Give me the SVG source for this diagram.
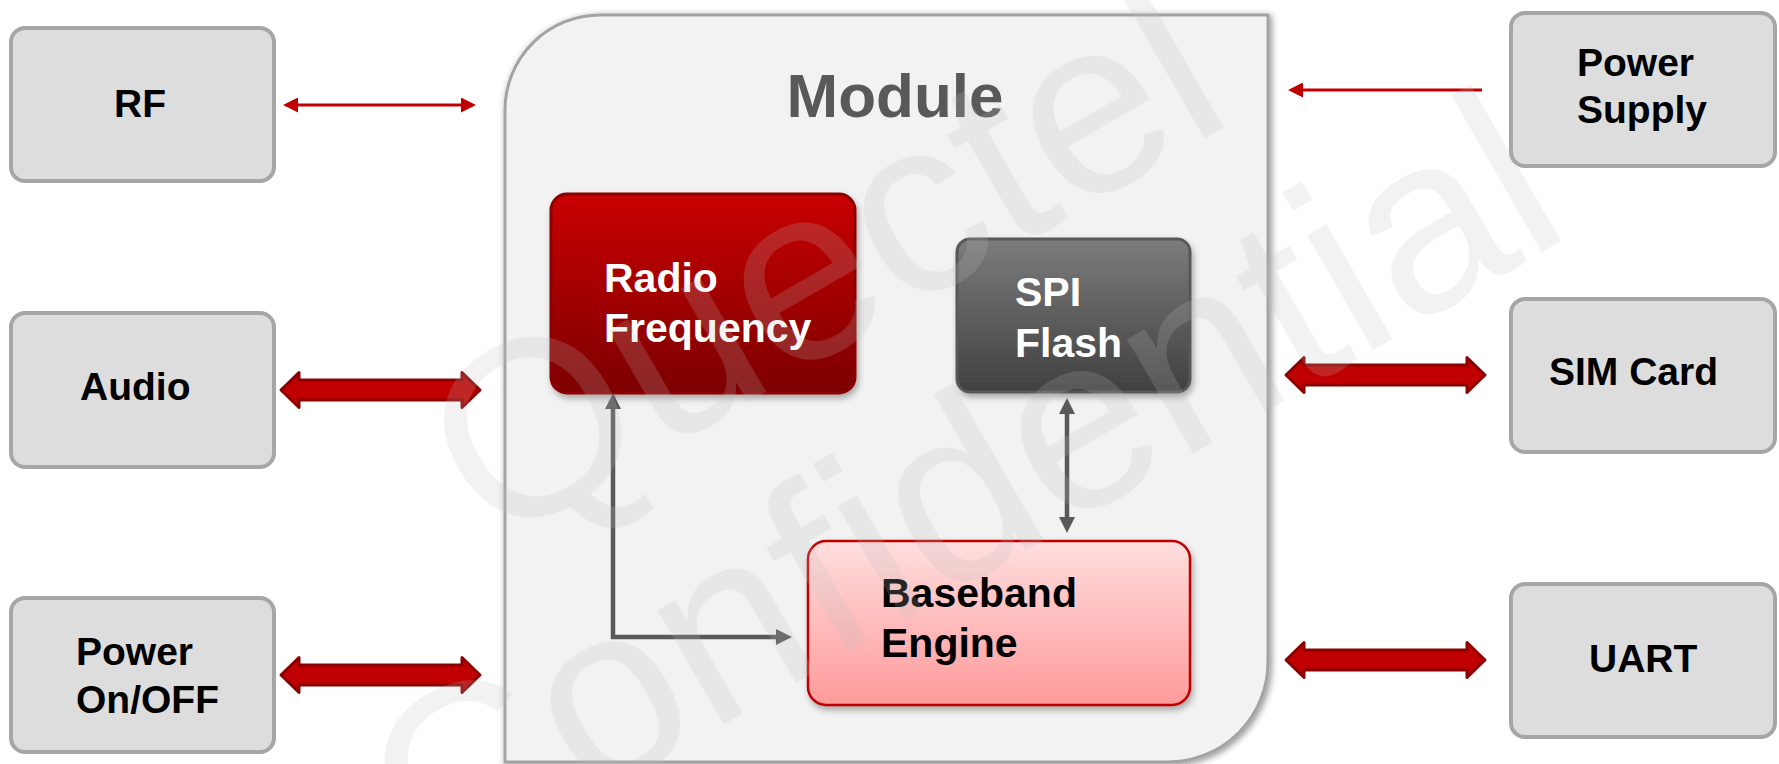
<svg xmlns="http://www.w3.org/2000/svg" width="1779" height="764" viewBox="0 0 1779 764">
<style>
.ext rect{fill:#dddddd;stroke:#a6a6a6;stroke-width:4}
.lbl{font-family:"Liberation Sans",Arial,sans-serif;font-weight:bold;font-size:39px;fill:#000}
.inl{font-family:"Liberation Sans",Arial,sans-serif;font-weight:bold;font-size:41px}
.gline{fill:none;stroke:#595959;stroke-width:4.5}
.rline{fill:none;stroke:#c00000;stroke-width:3}
.wm{font-family:"Liberation Sans",Arial,sans-serif;font-size:250px;fill:#bfbfbf;fill-opacity:0.2}
</style>
<defs>
<linearGradient id="gRF" x1="0" y1="0" x2="0" y2="1"><stop offset="0" stop-color="#c80000"/><stop offset="1" stop-color="#7d0000"/></linearGradient>
<linearGradient id="gSPI" x1="0" y1="0" x2="0" y2="1"><stop offset="0" stop-color="#7c7c7c"/><stop offset="1" stop-color="#404040"/></linearGradient>
<linearGradient id="gBB" x1="0" y1="0" x2="0" y2="1"><stop offset="0" stop-color="#ffdede"/><stop offset="1" stop-color="#ff9a9a"/></linearGradient>
<filter id="shMod" x="-5%" y="-5%" width="110%" height="110%"><feDropShadow dx="2" dy="2" stdDeviation="3.5" flood-color="#000" flood-opacity="0.45"/></filter>
<filter id="shBlk" x="-10%" y="-10%" width="120%" height="125%"><feDropShadow dx="2" dy="4" stdDeviation="3" flood-color="#000" flood-opacity="0.3"/></filter>
<marker id="gh" viewBox="0 0 16 16" markerWidth="16" markerHeight="16" refX="2" refY="8" orient="auto-start-reverse" markerUnits="userSpaceOnUse"><path d="M0,0 L16,8 L0,16 z" fill="#595959"/></marker>
<marker id="rh" viewBox="0 0 15 15" markerWidth="15" markerHeight="15" refX="2" refY="7.5" orient="auto-start-reverse" markerUnits="userSpaceOnUse"><path d="M0,0 L15,7.5 L0,15 z" fill="#c00000"/></marker>
<path id="fat" d="M0,0 L18,-17.5 L18,-10 L181,-10 L181,-17.5 L199,0 L181,17.5 L181,10 L18,10 L18,17.5 Z" fill="#c00000" stroke="#8b0000" stroke-width="3" stroke-linejoin="round"/>
</defs>
<rect width="1779" height="764" fill="#ffffff"/>

<g id="module">
<path d="M505,110 A95,95 0 0 1 600,15 H1268 V662 A100,100 0 0 1 1168,762 H505 Z" fill="#f2f2f2" stroke="#a3a3a3" stroke-width="3" filter="url(#shMod)"/>
<text x="895" y="117" text-anchor="middle" font-family="Liberation Sans, Arial, sans-serif" font-weight="bold" font-size="62" fill="#595959">Module</text>
</g>

<g id="radio-frequency">
<rect x="551" y="194" width="304" height="199" rx="16" fill="url(#gRF)" stroke="#8b0000" stroke-width="3" filter="url(#shBlk)"/>
<text class="inl" fill="#ffffff"><tspan x="604" y="292">Radio</tspan><tspan x="604" y="342">Frequency</tspan></text>
</g>

<g id="spi-flash">
<rect x="957" y="239" width="233" height="153" rx="13" fill="url(#gSPI)" stroke="#595959" stroke-width="3" filter="url(#shBlk)"/>
<text class="inl" fill="#ffffff"><tspan x="1015" y="306">SPI</tspan><tspan x="1015" y="357">Flash</tspan></text>
</g>

<g id="baseband-engine">
<rect x="808" y="541" width="382" height="164" rx="18" fill="url(#gBB)" stroke="#c00000" stroke-width="2.5" filter="url(#shBlk)"/>
<text class="inl" fill="#000000"><tspan x="881" y="607">Baseband</tspan><tspan x="881" y="657">Engine</tspan></text>
</g>

<g id="rf" class="ext"><rect x="11" y="28" width="263" height="153" rx="14"/><text class="lbl" x="114" y="117">RF</text></g>
<g id="audio" class="ext"><rect x="11" y="313" width="263" height="154" rx="14"/><text class="lbl" x="80" y="400">Audio</text></g>
<g id="power-onoff" class="ext"><rect x="11" y="598" width="263" height="154" rx="14"/><text class="lbl"><tspan x="76" y="665">Power</tspan><tspan x="76" y="713">On/OFF</tspan></text></g>
<g id="power-supply" class="ext"><rect x="1511" y="13" width="264" height="153" rx="14"/><text class="lbl"><tspan x="1577" y="76">Power</tspan><tspan x="1577" y="123">Supply</tspan></text></g>
<g id="sim-card" class="ext"><rect x="1511" y="299" width="264" height="153" rx="14"/><text class="lbl" x="1549" y="385">SIM Card</text></g>
<g id="uart" class="ext"><rect x="1511" y="584" width="264" height="153" rx="14"/><text class="lbl" x="1589" y="672">UART</text></g>

<g id="connectors">
<path class="gline" d="M613,407 V637 H778" marker-start="url(#gh)" marker-end="url(#gh)"/>
<path class="gline" d="M1067,412 V519" marker-start="url(#gh)" marker-end="url(#gh)"/>
<path class="rline" d="M296,105 H463" marker-start="url(#rh)" marker-end="url(#rh)"/>
<path class="rline" d="M1482,90 H1301" marker-end="url(#rh)"/>
<use href="#fat" transform="translate(281,390)"/>
<use href="#fat" transform="translate(281,675)"/>
<use href="#fat" transform="translate(1286,375)"/>
<use href="#fat" transform="translate(1286,660)"/>
</g>

<g id="watermark">
<text class="wm" transform="translate(492,550) rotate(-30)">Quectel</text>
<text class="wm" transform="translate(432,893) rotate(-30)">Confidential</text>
</g>
</svg>
